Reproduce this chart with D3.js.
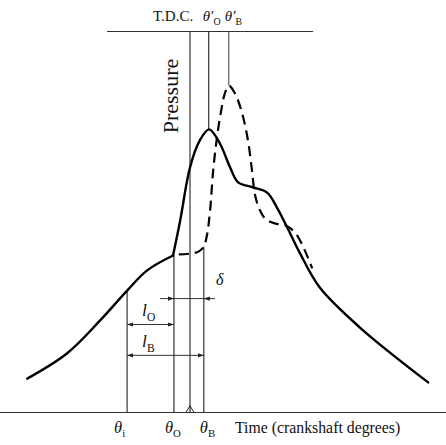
<!DOCTYPE html>
<html>
<head>
<meta charset="utf-8">
<script src="https://cdn.jsdelivr.net/npm/d3@7"></script>
<style>
  html, body { margin: 0; padding: 0; background: #fff; }
  svg { display: block; }
  text { font-family: "Liberation Serif", "DejaVu Serif", serif; fill: #111; }
</style>
</head>
<body>
<svg id="chart" width="446" height="445"></svg>
<script>
// ---- data (time units 0-100, pressure units 0-100) ----
// solid curve: before combustion (motoring/compression) up to θO
const solidCompression = [
  [6.1, 8.9], [15.0, 15.5], [22.4, 24.1], [28.5, 32.0], [33.0, 37.3], [38.8, 41.2]
];
// solid curve: after ignition θO
const solidCombustion = [
  [38.8, 41.2], [40.4, 50.4], [42.6, 64.3], [44.8, 71.4], [46.9, 74.3], [49.3, 70.6],
  [51.6, 64.3], [53.4, 60.4], [56.7, 59.1], [59.9, 57.7], [62.1, 53.8], [64.3, 48.8],
  [67.3, 41.7], [71.7, 32.8], [80.7, 22.3], [96.0, 7.9]
];
// dashed curve: delayed ignition θB
const dashedCurve = [
  [40.1, 41.5], [42.6, 41.7], [44.6, 42.3], [45.7, 43.6], [46.4, 46.5], [47.1, 53.0],
  [47.8, 63.5], [48.7, 72.7], [49.6, 79.3], [50.4, 83.7], [51.3, 85.8], [52.7, 83.7],
  [54.3, 78.5], [55.6, 71.4], [56.5, 63.5], [57.2, 57.0], [58.3, 53.0], [59.6, 50.7],
  [61.7, 49.6], [64.1, 49.1], [66.6, 46.5], [70.0, 37.8]
];
// key crank angles
const angleNames = ["θi", "θO", "TDC", "θB", "θO'", "θB'"];
const angleValues = [28.5, 39.0, 42.6, 45.7, 46.8, 51.3];
// vertical marker lines: pressure top / bottom for each angle
const markerTops = [32.0, 41.2, 100, 43.6, 100, 100];
const markerBottoms = [0, 0, 0, 0, 74.3, 85.8];
// reference lines
const topLineRange = [24.0, 70.2];
const baseLineRange = [0, 100];
// dimension rows (pressure level)
const deltaLevel = 29.9, lOLevel = 23.1, lBLevel = 15.0;
const deltaExtent = [35.9, 48.2];

// ---- scales ----
const svg = d3.select("#chart");
const x = d3.scaleLinear().domain([0, 100]).range([0, 446]);
const y = d3.scaleLinear().domain([0, 100]).range([412.5, 31.5]);

const line = d3.line().x(d => x(d[0])).y(d => y(d[1])).curve(d3.curveCatmullRom.alpha(0.5));
const straight = d3.line().x(d => x(d[0])).y(d => y(d[1]));

// baseline and top line
svg.append("path").attr("d", straight([[baseLineRange[0], 0], [baseLineRange[1], 0]]))
  .attr("stroke", "#333").attr("stroke-width", 1.2).attr("fill", "none");
svg.append("path").attr("d", straight([[topLineRange[0], 100], [topLineRange[1], 100]]))
  .attr("stroke", "#333").attr("stroke-width", 1.2).attr("fill", "none");

// vertical marker lines
angleValues.forEach((a, i) => {
  svg.append("path").attr("d", straight([[a, markerTops[i]], [a, markerBottoms[i]]]))
    .attr("stroke", "#222").attr("stroke-width", i === 5 ? 0.9 : 1.1).attr("fill", "none");
});
// small caret at TDC on baseline
const tdc = angleValues[2];
svg.append("path")
  .attr("d", straight([[tdc - 0.9, 0], [tdc, 1.8], [tdc + 0.9, 0]]))
  .attr("stroke", "#222").attr("stroke-width", 1).attr("fill", "none");

// curves
svg.append("path").attr("d", line(solidCompression))
  .attr("stroke", "#000").attr("stroke-width", 2.4).attr("fill", "none").attr("stroke-linecap", "round");
svg.append("path").attr("d", line(solidCombustion))
  .attr("stroke", "#000").attr("stroke-width", 2.4).attr("fill", "none").attr("stroke-linecap", "round");
svg.append("path").attr("d", line(dashedCurve))
  .attr("stroke", "#000").attr("stroke-width", 2.2).attr("fill", "none")
  .attr("stroke-dasharray", "10,6");

// arrows
const defs = svg.append("defs");
defs.append("marker").attr("id", "ah").attr("viewBox", "0 0 10 10")
  .attr("refX", 10).attr("refY", 5).attr("markerWidth", 6).attr("markerHeight", 6)
  .attr("orient", "auto-start-reverse")
  .append("path").attr("d", "M0,1.5 L10,5 L0,8.5 Z").attr("fill", "#222");

function dim(x0, x1, lev, startArrow, endArrow) {
  svg.append("path").attr("d", straight([[x0, lev], [x1, lev]]))
    .attr("stroke", "#333").attr("stroke-width", 1).attr("fill", "none")
    .attr("marker-start", startArrow ? "url(#ah)" : null)
    .attr("marker-end", endArrow ? "url(#ah)" : null);
}
dim(angleValues[0], angleValues[1], lOLevel, true, true);
dim(angleValues[0], angleValues[3], lBLevel, true, true);
// δ: arrows pointing inward at θO and θB from outside
dim(deltaExtent[0], angleValues[1], deltaLevel, false, true);
dim(deltaExtent[1], angleValues[3], deltaLevel, false, true);
svg.append("path").attr("d", straight([[angleValues[1], deltaLevel], [angleValues[3], deltaLevel]]))
  .attr("stroke", "#333").attr("stroke-width", 1).attr("fill", "none");

// ---- text ----
function sym(g, xPos, yPos, main, sub, prime, size, anchor) {
  const t = g.append("text").attr("x", xPos).attr("y", yPos)
    .attr("font-size", size).attr("text-anchor", anchor || "start");
  t.append("tspan").attr("font-style", "italic").text(main + (prime ? "′" : ""));
  if (sub) t.append("tspan").attr("font-size", size * 0.66)
    .attr("dy", size * 0.25).text(sub);
  return t;
}

// top labels
svg.append("text").attr("x", 153).attr("y", 21).attr("font-size", 15).text("T.D.C.");
sym(svg, x(angleValues[4]) - 6, 21, "θ", "O", true, 15);
sym(svg, x(angleValues[5]) - 4, 21, "θ", "B", true, 15);

// bottom labels
sym(svg, x(angleValues[0]) - 13, 433, "θ", "i", false, 16.5);
sym(svg, x(angleValues[1]) - 9, 433, "θ", "O", false, 16.5);
sym(svg, x(angleValues[3]) - 4, 433, "θ", "B", false, 16.5);
svg.append("text").attr("x", 235).attr("y", 433).attr("font-size", 15.8)
  .text("Time (crankshaft degrees)");

// Pressure (rotated)
svg.append("text").attr("transform", `translate(${x(angleValues[2]) - 12},96) rotate(-90)`)
  .attr("text-anchor", "middle").attr("font-size", 22).text("Pressure");

// dimension labels
sym(svg, x(angleValues[0]) + 15, y(lOLevel) - 8, "l", "O", false, 17.5);
sym(svg, x(angleValues[0]) + 15, y(lBLevel) - 8, "l", "B", false, 17.5);
svg.append("text").attr("x", 216).attr("y", 285).attr("font-size", 16)
  .attr("font-style", "italic").text("δ");
</script>
</body>
</html>
